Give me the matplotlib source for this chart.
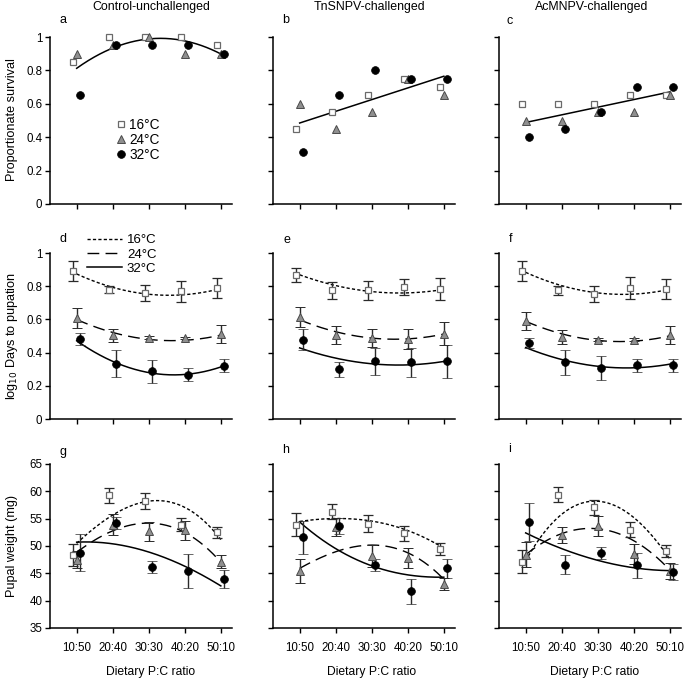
import numpy as np
import matplotlib
matplotlib.use("Agg")
import matplotlib.pyplot as plt
from matplotlib.lines import Line2D

plt.rcParams['font.family'] = ['Liberation Sans', 'DejaVu Sans']
plt.rcParams['lines.scale_dashes'] = False
FS = 8.3

# ---------------- data ----------------
ratios = ["10:50", "20:40", "30:30", "40:20", "50:10"]
temps = ["16°C", "24°C", "32°C"]
titles = ["Control-unchallenged", "TnSNPV-challenged", "AcMNPV-challenged"]

# Row 1: proportionate survival
surv_16 = [[0.85, 1.0, 1.0, 1.0, 0.95], [0.45, 0.55, 0.65, 0.75, 0.70], [0.60, 0.60, 0.60, 0.65, 0.65]]
surv_24 = [[0.90, 0.95, 1.0, 0.90, 0.90], [0.60, 0.45, 0.55, 0.75, 0.65], [0.50, 0.50, 0.55, 0.55, 0.65]]
surv_32 = [[0.65, 0.95, 0.95, 0.95, 0.90], [0.31, 0.65, 0.80, 0.75, 0.75], [0.40, 0.45, 0.55, 0.70, 0.70]]
surv_fit = [[0.81, 0.94, 0.985, 0.975, 0.90], [0.485, 0.555, 0.625, 0.695, 0.765], [0.488, 0.534, 0.580, 0.625, 0.671]]
surv_fit_deg = [2, 1, 1]

# Row 2: log10 days to pupation (mean, error)
days_16 = [[0.889, 0.779, 0.759, 0.769, 0.789], [0.869, 0.775, 0.775, 0.795, 0.783], [0.894, 0.775, 0.753, 0.789, 0.785]]
days_16_err = [[0.06, 0.02, 0.047, 0.065, 0.06], [0.043, 0.05, 0.057, 0.047, 0.067], [0.06, 0.025, 0.05, 0.065, 0.06]]
days_24 = [[0.608, 0.504, 0.49, 0.488, 0.514], [0.614, 0.504, 0.488, 0.482, 0.514], [0.592, 0.494, 0.478, 0.478, 0.508]]
days_24_err = [[0.06, 0.04, 0.01, 0.008, 0.055], [0.06, 0.055, 0.054, 0.06, 0.07], [0.055, 0.04, 0.01, 0.01, 0.055]]
days_32 = [[0.484, 0.333, 0.287, 0.267, 0.321], [0.478, 0.301, 0.347, 0.341, 0.347], [0.458, 0.341, 0.307, 0.323, 0.323]]
days_32_err = [[0.037, 0.08, 0.07, 0.04, 0.04], [0.063, 0.045, 0.08, 0.087, 0.1], [0.03, 0.077, 0.07, 0.04, 0.04]]
days_fit_16 = [[0.875, 0.79, 0.753, 0.75, 0.785], [0.87, 0.80, 0.77, 0.76, 0.78], [0.885, 0.80, 0.76, 0.755, 0.78]]
days_fit_24 = [[0.60, 0.52, 0.48, 0.475, 0.505], [0.60, 0.52, 0.49, 0.485, 0.51], [0.59, 0.51, 0.475, 0.47, 0.50]]
days_fit_32 = [[0.47, 0.35, 0.28, 0.265, 0.315], [0.428, 0.367, 0.333, 0.325, 0.347], [0.43, 0.36, 0.315, 0.31, 0.33]]

# Row 3: pupal weight (mg)
wt_16 = [[48.4, 59.3, 58.3, 53.9, 52.5], [53.9, 56.3, 54.1, 52.3, 49.5], [47.1, 59.4, 57.1, 53.0, 49.0]]
wt_16_err = [[2.0, 1.35, 1.45, 1.2, 1.0], [2.1, 1.3, 1.5, 1.4, 1.1], [2.1, 1.4, 1.4, 1.4, 1.1]]
wt_24 = [[47.5, 53.9, 52.7, 52.9, 47.1], [45.4, 53.5, 48.1, 47.8, 43.0], [48.4, 52.0, 53.7, 48.5, 45.4]]
wt_24_err = [[1.5, 1.9, 1.7, 1.75, 1.2], [2.2, 1.6, 2.0, 1.8, 1.1], [2.3, 1.4, 1.8, 1.8, 1.4]]
wt_32 = [[48.8, 54.2, 46.2, 45.5, 44.0], [51.6, 53.7, 46.6, 41.7, 45.9], [54.4, 46.6, 48.7, 46.5, 45.2]]
wt_32_err = [[3.4, 1.1, 1.05, 3.1, 1.7], [3.0, 1.45, 1.1, 2.3, 1.7], [3.5, 1.7, 1.1, 2.3, 1.5]]
wt_fit_16 = [[50.5, 55.6, 58.3, 57.0, 51.2], [54.5, 55.0, 54.6, 52.8, 49.6], [47.3, 55.8, 58.2, 55.2, 47.6]]
wt_fit_24 = [[48.8, 52.9, 54.0, 52.6, 47.0], [45.9, 49.0, 50.1, 48.8, 43.9], [48.4, 52.3, 53.1, 51.0, 45.6]]
wt_fit_32 = [[50.7, 50.4, 48.9, 46.3, 42.7], [54.4, 49.5, 46.4, 44.7, 44.3], [52.4, 49.5, 47.4, 46.0, 45.5]]

letters = ["a", "b", "c", "d", "e", "f", "g", "h", "i"]

# ---------------- styles ----------------
W, H = 685, 678
fig = plt.figure(figsize=(W / 100, H / 100), dpi=100)

col_left = [50, 273, 499]
col_w = 182
row_tb = [(37, 204), (253, 419), (464, 628)]

def ax_at(r, c):
    top, bot = row_tb[r]
    return fig.add_axes([col_left[c] / W, 1 - bot / H, col_w / W, (bot - top) / H])

x = np.arange(1, 6)
off = {16: -0.1, 24: 0.0, 32: 0.1}
sq = dict(marker='s', ms=4.2, mfc='white', mec='#6a6a6a', mew=0.9, ls='none')
tri = dict(marker='^', ms=5.2, mfc='#8f8f8f', mec='#4a4a4a', mew=0.7, ls='none')
circ = dict(marker='o', ms=5.6, mfc='black', mec='black', mew=0.5, ls='none')
ls16 = dict(color='black', lw=1.0, dashes=(2.3, 1.6))
ls24 = dict(color='black', lw=1.0, dashes=(8.5, 4.5))
ls32 = dict(color='black', lw=1.1, ls='-')
eb = dict(ecolor='#2a2a2a', elinewidth=1.0, capsize=3.5, capthick=1.0)

def style(ax, ylim, yticks, yticklabels, showx):
    ax.set_xlim(0.26, 5.31)
    ax.set_ylim(*ylim)
    for s in ['top', 'right']:
        ax.spines[s].set_visible(False)
    for s in ['left', 'bottom']:
        ax.spines[s].set_linewidth(1.1)
    ax.set_xticks(x)
    ax.set_yticks(yticks)
    ax.tick_params(direction='out', length=3.5, width=1.0, pad=2, labelsize=FS)
    if yticklabels is None:
        ax.set_yticklabels([])
    else:
        ax.set_yticklabels(yticklabels)
    if showx:
        ax.set_xticklabels(ratios, fontsize=FS)
        ax.tick_params(axis='x', pad=6.5)
    else:
        ax.set_xticklabels([])

def smooth(ax, vals, deg, st):
    coef = np.polyfit(x, vals, deg)
    xs = np.linspace(1, 5, 200)
    ax.plot(xs, np.polyval(coef, xs), **st)

def ebar(ax, xv, yv, ev, mk):
    cont = ax.errorbar(xv, yv, yerr=ev, **mk, **eb)
    for art in cont.get_children():
        art.set_clip_on(False)

# Row 1
for c in range(3):
    ax = ax_at(0, c)
    smooth(ax, surv_fit[c], surv_fit_deg[c], dict(color='black', lw=1.1))
    h16, = ax.plot(x + off[16], surv_16[c], clip_on=False, **sq)
    h24, = ax.plot(x + off[24], surv_24[c], clip_on=False, **tri)
    h32, = ax.plot(x + off[32], surv_32[c], clip_on=False, **circ)
    style(ax, (0, 1), [0, 0.2, 0.4, 0.6, 0.8, 1.0],
          ["0", "0.2", "0.4", "0.6", "0.8", "1"] if c == 0 else None, False)
    if c == 0:
        ax.legend([h16, h24, h32], temps, loc='upper left', bbox_to_anchor=(0.35, 0.515),
                  frameon=False, fontsize=9.8, handlelength=1.0, handletextpad=0.15,
                  labelspacing=0.08, borderpad=0, borderaxespad=0)

# Row 2
for c in range(3):
    ax = ax_at(1, c)
    smooth(ax, days_fit_16[c], 2, ls16)
    smooth(ax, days_fit_24[c], 2, ls24)
    smooth(ax, days_fit_32[c], 2, ls32)
    ebar(ax, x + off[16], days_16[c], days_16_err[c], sq)
    ebar(ax, x + off[24], days_24[c], days_24_err[c], tri)
    ebar(ax, x + off[32], days_32[c], days_32_err[c], circ)
    style(ax, (0, 1), [0, 0.2, 0.4, 0.6, 0.8, 1.0],
          ["0", "0.2", "0.4", "0.6", "0.8", "1"] if c == 0 else None, False)
    if c == 0:
        handles = [Line2D([], [], **ls16), Line2D([], [], **ls24), Line2D([], [], **ls32)]
        ax.legend(handles, temps, loc='upper left', bbox_to_anchor=(0.203, 1.115),
                  frameon=False, fontsize=9.5, handlelength=2.65, handletextpad=0.38,
                  labelspacing=0.17, borderpad=0, borderaxespad=0)

# Row 3
for c in range(3):
    ax = ax_at(2, c)
    smooth(ax, wt_fit_16[c], 3, ls16)
    smooth(ax, wt_fit_24[c], 3, ls24)
    smooth(ax, wt_fit_32[c], 3, ls32)
    ebar(ax, x + off[16], wt_16[c], wt_16_err[c], sq)
    ebar(ax, x + off[24], wt_24[c], wt_24_err[c], tri)
    ebar(ax, x + off[32], wt_32[c], wt_32_err[c], circ)
    style(ax, (35, 65), [35, 40, 45, 50, 55, 60, 65],
          ["35", "40", "45", "50", "55", "60", "65"] if c == 0 else None, True)

# Text
title_x = [151, 369, 592]
for c in range(3):
    fig.text(title_x[c] / W, 1 - 7 / H, titles[c], ha='center', va='center', fontsize=8.9)
    fig.text(title_x[c] / W + (3 / W if c else 0), 1 - 672 / H, "Dietary P:C ratio",
             ha='center', va='center', fontsize=8.7)

letter_pos = [(63, 20), (286, 20), (510, 21), (63, 239), (287, 240), (511, 239),
              (63, 452), (286, 450), (510, 449)]
for L, (lx, ly) in zip(letters, letter_pos):
    fig.text(lx / W, 1 - ly / H, L, ha='center', va='center', fontsize=9)

fig.text(12 / W, 1 - 120 / H, "Proportionate survival", rotation=90, ha='center', va='center', fontsize=9.1)
fig.text(12 / W, 1 - 336 / H, "log$_{10}$ Days to pupation", rotation=90, ha='center', va='center', fontsize=9.1)
fig.text(12 / W, 1 - 546 / H, "Pupal weight (mg)", rotation=90, ha='center', va='center', fontsize=9.1)

fig.savefig("out.png", dpi=100)
